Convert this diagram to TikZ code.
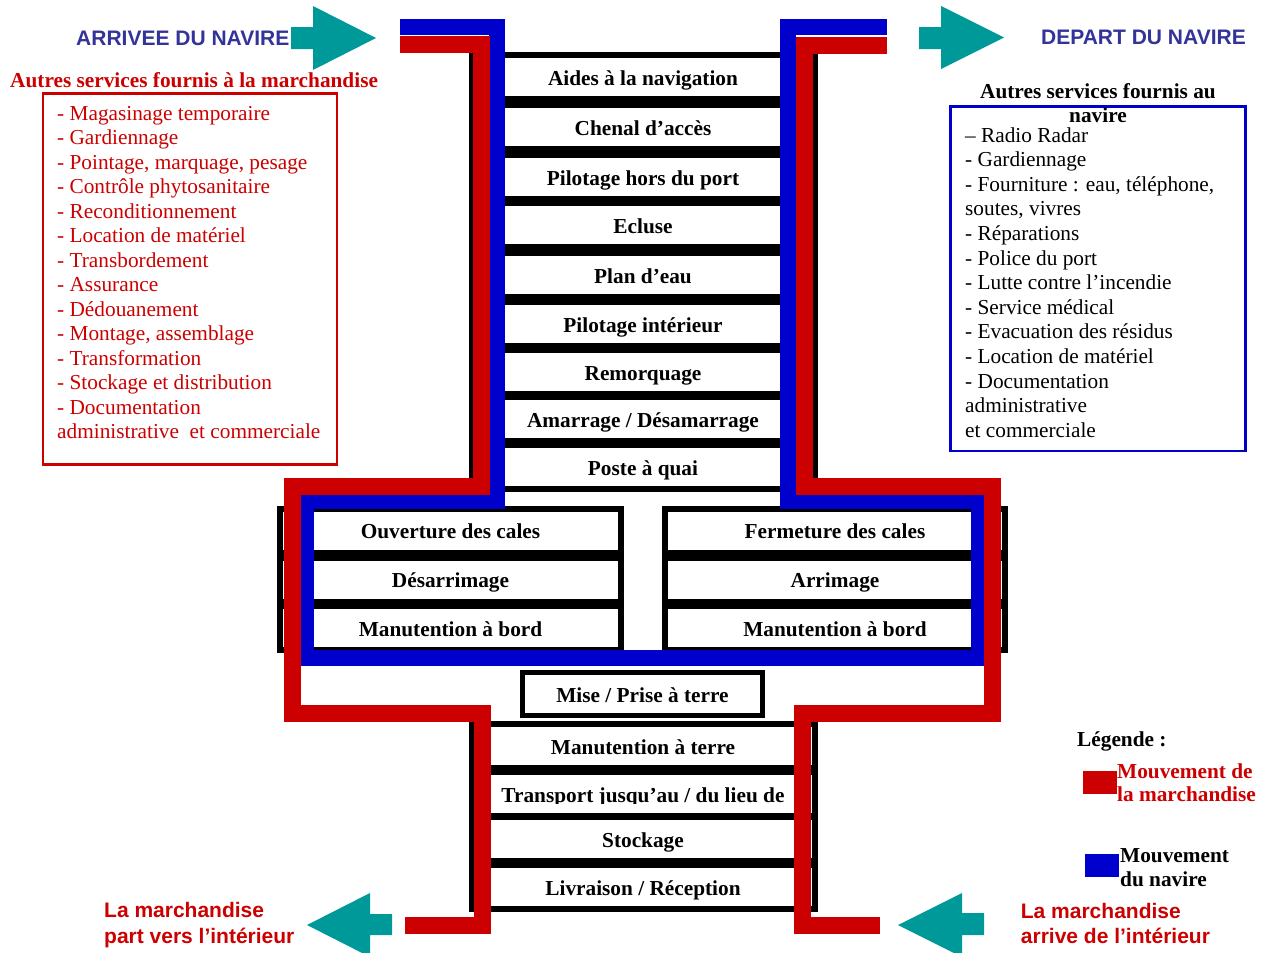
\documentclass[tikz,border=0pt]{standalone}
\usepackage{fontspec}
\setmainfont{Liberation Serif}
\newfontfamily\sansf{Liberation Sans}
\definecolor{flowred}{RGB}{204,0,0}
\definecolor{flowblue}{RGB}{0,0,204}
\definecolor{tealarrow}{RGB}{0,153,153}
\definecolor{navytitle}{RGB}{51,51,153}
\begin{document}
\begin{tikzpicture}[x=1pt,y=-1pt,
  stepbox/.style={draw=black, line width=6pt, fill=white, minimum height=44pt,
    inner sep=0pt, font=\fontsize{21.3}{25}\selectfont\bfseries, text height=18pt, text depth=2pt},
  colbox/.style={stepbox, minimum width=343pt},
  holdbox/.style={stepbox, minimum width=341pt},
  boxtext/.style={inner sep=0pt, font=\fontsize{21.3}{25}\selectfont\bfseries, text height=18pt, text depth=2pt},
  txt/.style={inner sep=0pt, anchor=base west, font=\fontsize{21.3}{25}\selectfont},
  btxt/.style={txt, font=\fontsize{21.3}{25}\selectfont\bfseries},
  stxt/.style={txt, font=\sansf\bfseries\fontsize{21}{25}\selectfont},
  redflow/.style={draw=flowred, line width=17pt, line join=miter},
  blueflow/.style={draw=flowblue, line width=16pt, line join=miter},
  tarrow/.style={fill=tealarrow, draw=none}]
\useasboundingbox (0,0) rectangle (1270,953);
\fill[white] (0,0) rectangle (1270,953);

% ---- upper column
\node[colbox] (aides) at (643,77) {Aides à la navigation};
\node[colbox] (chenal) at (643,127) {Chenal d’accès};
\node[colbox] (pilhors) at (643,177) {Pilotage hors du port};
\node[colbox] (ecluse) at (643,225) {Ecluse};
\node[colbox] (plan) at (643,275) {Plan d’eau};
\node[colbox] (pilint) at (643,324) {Pilotage intérieur};
\node[colbox] (remorq) at (643,372) {Remorquage};
\node[colbox] (amarr) at (643,419) {Amarrage / Désamarrage};
\node[colbox] (poste) at (643,467) {Poste à quai};

% ---- holds
\node[holdbox] (ouv) at (450.5,530.5) {Ouverture des cales};
\node[holdbox] (desarr) at (450.5,579.5) {Désarrimage};
\node[holdbox] (manbl) at (450.5,628) {Manutention à bord};
\node[holdbox, minimum width=340pt] (ferm) at (835,530.5) {Fermeture des cales};
\node[holdbox, minimum width=340pt] (arrim) at (835,579.5) {Arrimage};
\node[holdbox, minimum width=340pt] (manbr) at (835,628) {Manutention à bord};

\node[stepbox, line width=5pt, minimum width=240pt, minimum height=43pt] (mise) at (642.5,694) {Mise / Prise à terre};

% ---- lower column
\node[colbox] (manterre) at (643,746) {Manutention à terre};
\node[colbox] (transp) at (643,794) {};
\begin{scope}
  \clip (480,772) rectangle (806,803);
  \node[boxtext] (transpt) at (643,794) {Transport jusqu’au / du lieu de};
\end{scope}
\node[colbox] (stock) at (643,839) {Stockage};
\node[colbox] (livr) at (643,887) {Livraison / Réception};

% ---- flows
\draw[blueflow] (400,27) -- (497,27) -- (497,501) -- (306,501) -- (306,658)
  -- (979,658) -- (979,501) -- (788,501) -- (788,27) -- (887,27);
\draw[redflow] (400,44) -- (481.5,44) -- (481.5,486) -- (292,486) -- (292,713)
  -- (482,713) -- (482,925) -- (405,925);
\draw[redflow] (887,45) -- (804.5,45) -- (804.5,486) -- (992.5,486) -- (992.5,713)
  -- (802.5,713) -- (802.5,925) -- (880,925);

% ---- titles
\node[stxt, text=navytitle] (arrivee) at (76,45.7) {ARRIVEE DU NAVIRE};
\node[stxt, text=navytitle] (depart) at (1041,44) {DEPART DU NAVIRE};

% ---- left list
\node[btxt, text=flowred] (hmarch) at (10,87.3) {Autres services fournis à la marchandise};
\draw[flowred, line width=2.5pt] (43,93.5) rectangle (337,464.5);
\foreach \t [count=\i] in {- Magasinage temporaire, - Gardiennage, {- Pointage, marquage, pesage},
  - Contrôle phytosanitaire, - Reconditionnement, - Location de matériel, - Transbordement,
  - Assurance, - Dédouanement, {- Montage, assemblage}, - Transformation,
  - Stockage et distribution, - Documentation, administrative\ \ et commerciale}
  \node[txt, text=flowred] (m\i) at (57,{120+24.5*(\i-1)}) {\t};

% ---- right list
\draw[flowblue, line width=2.5pt] (950.5,106.5) rectangle (1245.5,451);
\node[btxt, anchor=base] (hnav1) at (1098,98.3) {Autres services fournis au};
\node[btxt, anchor=base] (hnav2) at (1098,122.7) {navire};
\foreach \t [count=\i] in {– Radio Radar, - Gardiennage, {- Fourniture : eau, téléphone,},
  {soutes, vivres}, - Réparations, - Police du port, - Lutte contre l’incendie,
  - Service médical, - Evacuation des résidus, - Location de matériel, - Documentation,
  administrative, et commerciale}
  \node[txt] (n\i) at (965,{142+24.6*(\i-1)}) {\t};

% ---- legend
\node[btxt] (leg) at (1077,746) {Légende :};
\fill[flowred] (1083,771) rectangle (1117,794);
\node[btxt, text=flowred] (lr1) at (1117,778.3) {Mouvement de};
\node[btxt, text=flowred] (lr2) at (1117,801) {la marchandise};
\fill[flowblue] (1085,854) rectangle (1119,877);
\node[btxt] (lb1) at (1120,862.7) {Mouvement};
\node[btxt] (lb2) at (1120,886.7) {du navire};

% ---- bottom texts
\node[stxt, text=flowred] (bl1) at (104,917.3) {La marchandise};
\node[stxt, text=flowred] (bl2) at (104,943) {part vers l’intérieur};
\node[stxt, text=flowred] (br1) at (1020.7,918.3) {La marchandise};
\node[stxt, text=flowred] (br2) at (1020.7,943.3) {arrive de l’intérieur};

% ---- teal arrows
\fill[tarrow] (291,27) -- (313,27) -- (313,6) -- (376,38) -- (313,70) -- (313,49) -- (291,49) -- cycle;
\fill[tarrow] (919,27) -- (941,27) -- (941,6) -- (1004,37.5) -- (941,69) -- (941,49) -- (919,49) -- cycle;
\fill[tarrow] (392,914) -- (370,914) -- (370,893) -- (307,925) -- (370,957) -- (370,935) -- (392,935) -- cycle;
\fill[tarrow] (984,913) -- (962,913) -- (962,893) -- (898,925) -- (962,957) -- (962,935) -- (984,935) -- cycle;
\end{tikzpicture}
\end{document}
